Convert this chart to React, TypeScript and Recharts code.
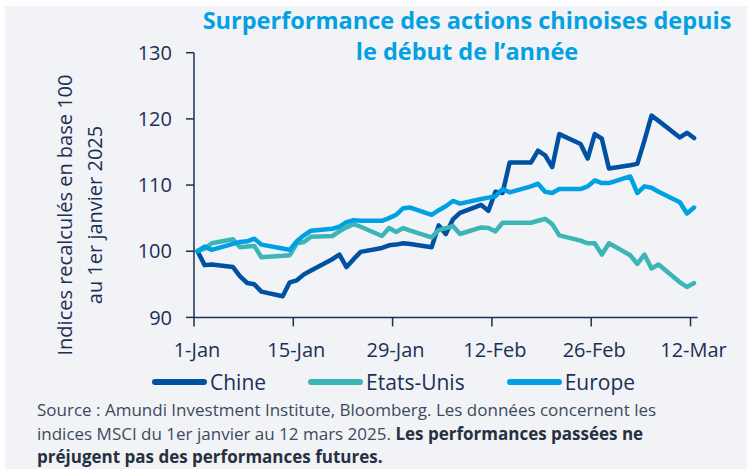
import { LineChart, Line, XAxis, YAxis } from "recharts";

// business days, counted from 1 Jan 2025
const days = [
  0, 1, 2, 5, 6, 7, 8, 9, 12, 13, 14, 15, 16, 19, 20, 21, 22, 23, 26, 27, 28, 29, 30,
  33, 34, 35, 36, 37, 40, 41, 42, 43, 44, 47, 48, 49, 50, 51, 54, 55, 56, 57, 58,
  61, 62, 63, 64, 65, 68, 69, 70,
];

const chine = [
  100.0, 97.9, 98.0, 97.6, 96.2, 95.2, 95.0, 93.9, 93.2, 95.3, 95.6, 96.5, 97.1,
  98.8, 99.5, 97.6, 98.8, 99.9, 100.5, 100.9, 101.0, 101.2, 101.1,
  100.6, 103.9, 102.6, 104.8, 105.8, 107.0, 106.1, 109.0, 108.8, 113.4,
  113.4, 115.2, 114.5, 112.7, 117.7, 116.2, 114.0, 117.7, 117.0, 112.5,
  113.0, 113.2, 116.7, 120.5, 119.7, 117.2, 117.9, 117.1,
];

const etatsUnis = [
  100.0, 100.4, 101.2, 101.8, 100.6, 100.7, 100.8, 99.1, 99.3, 99.4, 101.2, 101.4, 102.2,
  102.3, 103.0, 103.6, 104.1, 103.7, 102.3, 103.5, 102.9, 103.5, 103.1,
  102.1, 103.2, 103.5, 103.8, 102.6, 103.6, 103.5, 103.0, 104.3, 104.3,
  104.3, 104.6, 104.9, 104.1, 102.4, 101.6, 101.2, 101.2, 99.5, 101.2,
  99.4, 98.1, 99.5, 97.4, 98.0, 95.3, 94.6, 95.2,
];

const europe = [
  100.0, 100.7, 100.2, 101.1, 101.4, 101.5, 101.9, 101.0, 100.4, 100.2, 101.5, 102.4, 103.1,
  103.4, 103.7, 104.4, 104.7, 104.6, 104.6, 105.0, 105.5, 106.5, 106.6,
  105.5, 106.2, 106.8, 107.6, 107.2, 107.9, 108.1, 108.3, 109.4, 108.9,
  109.8, 110.2, 109.0, 108.8, 109.4, 109.4, 109.8, 110.7, 110.3, 110.3,
  111.3, 108.8, 109.8, 109.6, 109.0, 107.4, 105.7, 106.6,
];

const tickDays = [0, 14, 28, 42, 56, 70];
const tickLabels = ["1-Jan", "15-Jan", "29-Jan", "12-Feb", "26-Feb", "12-Mar"];
const yTicks = [90, 100, 110, 120, 130];

const series = [
  { key: "chine", name: "Chine", color: "#0051a2" },
  { key: "us", name: "Etats-Unis", color: "#3cb5b6" },
  { key: "europe", name: "Europe", color: "#00a1e4" },
];

// each day is a band; points sit in the middle of their day
const rows = days.map((d, i) => ({
  x: d + 0.5,
  chine: chine[i],
  us: etatsUnis[i],
  europe: europe[i],
}));

const NAVY = "#1c2f55";
const FONT = "'Open Sans', 'Noto Sans', sans-serif";

export default function App() {
  return (
    <div style={{ position: "absolute", left: 0, top: 0, width: 747, height: 469, background: "#fff", fontFamily: FONT }}>
      <div style={{ position: "absolute", left: 5, top: 6, right: 0, bottom: 0, background: "#f1f3f7" }} />

      {/* title */}
      <div style={{ position: "absolute", left: 167, top: 5, width: 600, textAlign: "center", color: "#03a0e2", fontWeight: 700, fontSize: 23.5, lineHeight: "31px" }}>
        Surperformance des actions chinoises depuis
        <br />
        le début de l’année
      </div>

      {/* y axis title */}
      <div style={{ position: "absolute", left: 80 - 170, top: 215 - 30, width: 340, height: 60, transform: "rotate(-90deg)", textAlign: "center", color: NAVY, fontSize: 20, lineHeight: "30px" }}>
        Indices recalculés en base 100
        <br />
        au 1er janvier 2025
      </div>

      <div style={{ position: "absolute", left: 0, top: 0 }}>
        <LineChart width={747} height={400} data={rows} margin={{ top: 52.7, right: 49.4, left: 134, bottom: 42.6 }}>
          <XAxis
            dataKey="x"
            type="number"
            domain={[0, 71]}
            ticks={tickDays}
            tickFormatter={(v) => tickLabels[tickDays.indexOf(v)]}
            height={40}
            tickSize={9}
            tickMargin={16}
            interval={0}
            stroke={NAVY}
            strokeWidth={1.5}
            tick={{ fill: NAVY, fontSize: 20, fontFamily: FONT, dx: 3 }}
          />
          <YAxis
            domain={[90, 130]}
            ticks={yTicks}
            width={60}
            tickSize={8}
            tickMargin={14}
            stroke={NAVY}
            strokeWidth={1.5}
            tick={{ fill: NAVY, fontSize: 20, fontFamily: FONT }}
          />
          {series.map((s) => (
            <Line
              key={s.key}
              dataKey={s.key}
              type="linear"
              stroke={s.color}
              strokeWidth={4.5}
              strokeLinejoin="round"
              strokeLinecap="round"
              dot={false}
              isAnimationActive={false}
            />
          ))}
        </LineChart>
      </div>

      {/* legend */}
      <div style={{ position: "absolute", left: 152, top: 368, display: "flex", alignItems: "center", gap: 42, color: NAVY, fontSize: 21, lineHeight: "28px" }}>
        {series.map((s) => (
          <div key={s.key} style={{ display: "flex", alignItems: "center" }}>
            <span style={{ display: "inline-block", width: 55, height: 6, borderRadius: 3, background: s.color, marginRight: 3 }} />
            <span>{s.name}</span>
          </div>
        ))}
      </div>

      {/* source */}
      <div style={{ position: "absolute", left: 37, top: 398, width: 710, color: "#3d4a5c", fontSize: 17, lineHeight: "23.5px", whiteSpace: "nowrap" }}>
        Source : Amundi Investment Institute, Bloomberg. Les données concernent les
        <br />
        indices MSCI du 1er janvier au 12 mars 2025. <b style={{ color: "#26303f" }}>Les performances passées ne</b>
        <br />
        <b style={{ color: "#26303f" }}>préjugent pas des performances futures.</b>
      </div>
    </div>
  );
}
